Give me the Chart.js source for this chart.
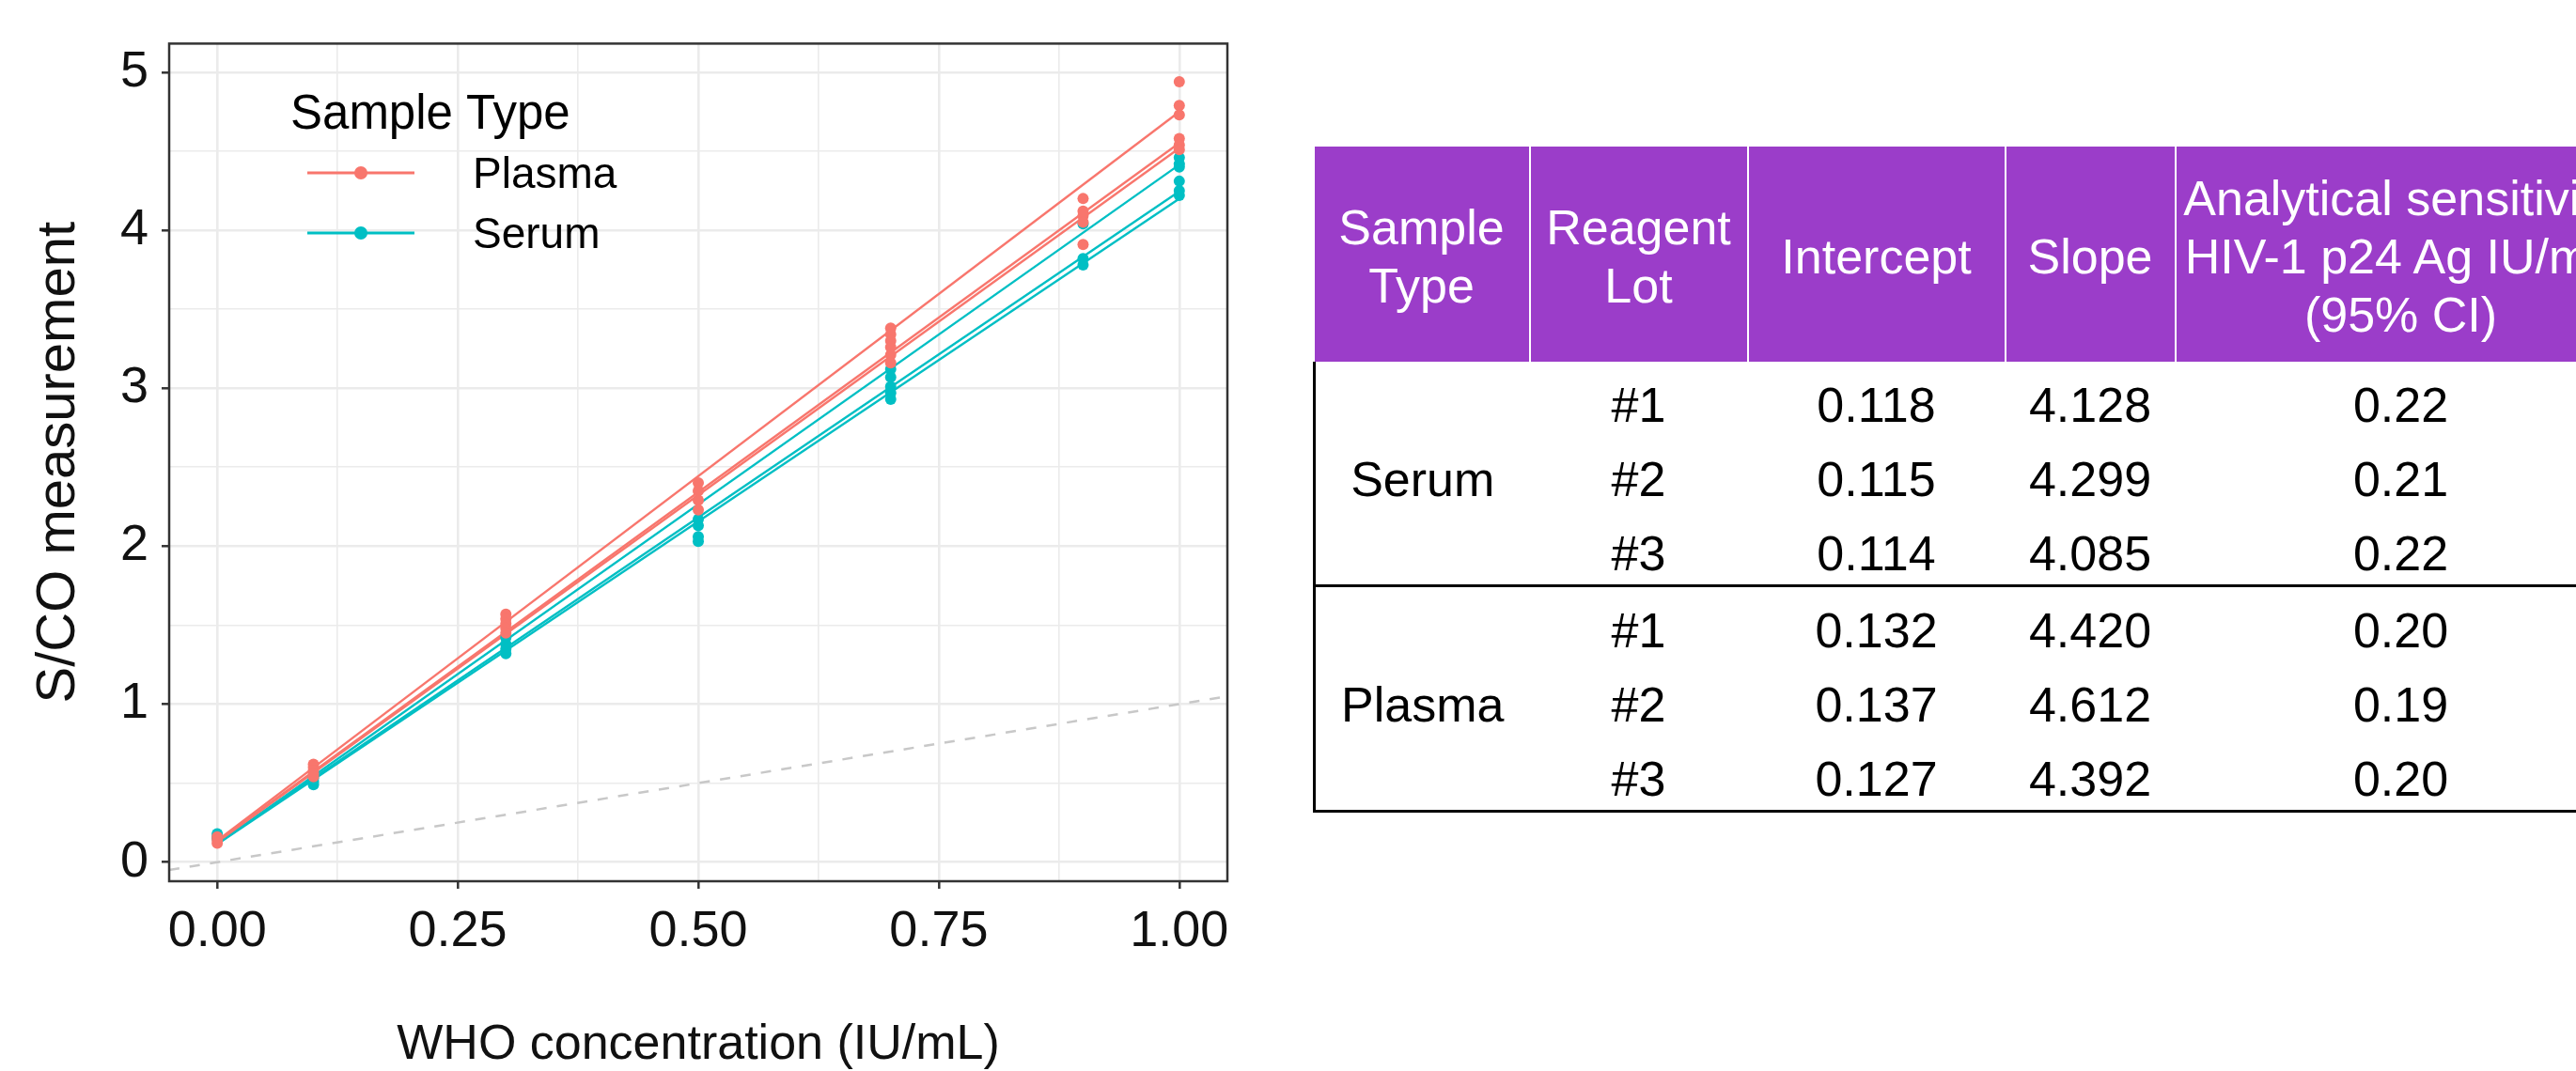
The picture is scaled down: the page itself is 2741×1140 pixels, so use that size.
<!DOCTYPE html>
<html>
<head>
<meta charset="utf-8">
<script src="https://cdn.jsdelivr.net/npm/chart.js@4.4.1/dist/chart.umd.min.js"></script>
<style>
  html, body { margin: 0; padding: 0; background: #fff; width: 2741px; height: 1140px; overflow: hidden; }
  #plot { position: absolute; left: 0; top: 0; }
  #fits {
    position: absolute; left: 1397px; top: 156px; width: 1396px;
    border-collapse: collapse; table-layout: fixed;
    font-family: "Liberation Sans", Arial, sans-serif; font-size: 52px; color: #000;
  }
  #fits th {
    background: #9b3dc9; color: #fff; font-weight: normal; height: 225px; padding: 4px 0 0 0;
    line-height: 62px; text-align: center; vertical-align: middle; white-space: nowrap;
    border-left: 2px solid #fff; border-right: 2px solid #fff;
  }
  #fits th:first-child { border-left: none; }
  #fits td { height: 65px; padding: 14px 0 0 0; line-height: 1.15; text-align: center; vertical-align: middle; white-space: nowrap; }
  #fits td.type { border-left: 3px solid #000; }
  #fits tr.last td { border-bottom: 3px solid #000; }
</style>
</head>
<body>
<canvas id="plot" width="1380" height="1140"></canvas>
<table id="fits">
  <colgroup>
    <col style="width:229px"><col style="width:232px"><col style="width:274px"><col style="width:181px"><col style="width:480px">
  </colgroup>
  <thead>
    <tr>
      <th>Sample<br>Type</th>
      <th>Reagent<br>Lot</th>
      <th>Intercept</th>
      <th>Slope</th>
      <th>Analytical sensitivity<br>HIV-1 p24 Ag IU/mL<br>(95% CI)</th>
    </tr>
  </thead>
  <tbody id="fit-body"></tbody>
</table>
<script>
const FONT = '"Liberation Sans", Arial, sans-serif';
const PLASMA = "#F8766D";
const SERUM = "#00BFC4";

// WHO panel concentrations (IU/mL) and replicate S/CO readings per concentration
const concentrations = [0, 0.1, 0.3, 0.5, 0.7, 0.9, 1.0];
const plasmaReadings = [
  [0.16, 0.14, 0.12],
  [0.62, 0.60, 0.58, 0.56, 0.54],
  [1.57, 1.54, 1.51, 1.48, 1.45],
  [2.40, 2.35, 2.29, 2.23],
  [3.38, 3.34, 3.30, 3.26, 3.21, 3.16],
  [4.20, 4.12, 4.09, 4.05, 3.91],
  [4.94, 4.79, 4.73, 4.58, 4.54, 4.51],
];
const serumReadings = [
  [0.18, 0.16, 0.15],
  [0.53, 0.51, 0.49],
  [1.42, 1.38, 1.35, 1.32],
  [2.17, 2.13, 2.06, 2.03],
  [3.12, 3.07, 3.01, 2.97, 2.93],
  [4.04, 3.82, 3.78],
  [4.46, 4.42, 4.40, 4.31, 4.25, 4.22],
];

// fitted lines per reagent lot, value at 0 and at 1 IU/mL
const fitRange = [0, 1];
const serumFitStart = [0.118, 0.115, 0.114];
const serumFitEnd = [4.246, 4.414, 4.199];
const plasmaFitStart = [0.132, 0.137, 0.127];
const plasmaFitEnd = [4.552, 4.749, 4.519];

// y = x reference
const identityRange = [-0.05, 1.05];

// table
const lots = ["#1", "#2", "#3"];
const serumIntercept = [0.118, 0.115, 0.114];
const serumSlope = [4.128, 4.299, 4.085];
const serumSensitivity = ["0.22", "0.21", "0.22"];
const plasmaIntercept = [0.132, 0.137, 0.127];
const plasmaSlope = [4.420, 4.612, 4.392];
const plasmaSensitivity = ["0.20", "0.19", "0.20"];

/* ── TABLE ── */
function tableRows(type, intercepts, slopes, sens) {
  return lots.map((lot, i) => `
    <tr class="${i === 2 ? "last" : ""}">
      ${i === 0 ? `<td class="type" rowspan="3" style="border-bottom:3px solid #000">${type}</td>` : ""}
      <td>${lot}</td><td>${intercepts[i].toFixed(3)}</td><td>${slopes[i].toFixed(3)}</td><td>${sens[i]}</td>
    </tr>`).join("");
}
document.getElementById("fit-body").innerHTML =
  tableRows("Serum", serumIntercept, serumSlope, serumSensitivity) +
  tableRows("Plasma", plasmaIntercept, plasmaSlope, plasmaSensitivity);

/* ── CHART ── */
const toPoints = (readings) => concentrations.flatMap((c, i) => readings[i].map((v) => ({ x: c, y: v })));

const pointSet = (label, readings, color) => ({
  label, data: toPoints(readings), showLine: false,
  backgroundColor: color, borderWidth: 0, pointRadius: 6,
});
const fitSet = (start, end, color) => ({
  data: fitRange.map((x, k) => ({ x, y: k === 0 ? start : end })), showLine: true,
  borderColor: color, borderWidth: 2.4, pointRadius: 0,
});

const datasets = [
  pointSet("Plasma", plasmaReadings, PLASMA),
  pointSet("Serum", serumReadings, SERUM),
  ...plasmaFitStart.map((s, i) => fitSet(s, plasmaFitEnd[i], PLASMA)),
  ...serumFitStart.map((s, i) => fitSet(s, serumFitEnd[i], SERUM)),
  {
    data: identityRange.map((v) => ({ x: v, y: v })), showLine: true,
    borderColor: "#c8c8c8", borderWidth: 2.5, borderDash: [11, 11], pointRadius: 0,
  },
];

const isMajorX = (v) => Math.abs(v / 0.25 - Math.round(v / 0.25)) < 1e-9;
const isMajorY = (v) => Math.abs(v - Math.round(v)) < 1e-9;

const panelBorder = {
  id: "panelBorder",
  afterDatasetsDraw(chart) {
    const { ctx, chartArea: a } = chart;
    ctx.save();
    ctx.strokeStyle = "#333";
    ctx.lineWidth = 2.5;
    ctx.strokeRect(a.left, a.top, a.right - a.left, a.bottom - a.top);
    ctx.restore();
  },
};

const sampleLegend = {
  id: "sampleLegend",
  afterDraw(chart) {
    const ctx = chart.ctx;
    ctx.save();
    ctx.fillStyle = "#000";
    ctx.textBaseline = "alphabetic";
    ctx.font = `51px ${FONT}`;
    ctx.fillText("Sample Type", 309, 137);
    [["Plasma", PLASMA, 184, 200], ["Serum", SERUM, 248, 264]].forEach(([label, color, y, base]) => {
      ctx.strokeStyle = color;
      ctx.lineWidth = 3;
      ctx.beginPath();
      ctx.moveTo(327, y);
      ctx.lineTo(441, y);
      ctx.stroke();
      ctx.fillStyle = color;
      ctx.beginPath();
      ctx.arc(384, y, 7, 0, Math.PI * 2);
      ctx.fill();
      ctx.fillStyle = "#000";
      ctx.font = `46px ${FONT}`;
      ctx.fillText(label, 503, base);
    });
    ctx.restore();
  },
};

new Chart(document.getElementById("plot"), {
  type: "scatter",
  data: { datasets },
  plugins: [panelBorder, sampleLegend],
  options: {
    responsive: false,
    animation: false,
    layout: { padding: { left: 0, top: 38, right: 74, bottom: 0 } },
    plugins: { legend: { display: false }, tooltip: { enabled: false } },
    scales: {
      x: {
        type: "linear", min: -0.05, max: 1.05,
        afterFit: (s) => { s.height = 202; },
        border: { display: false },
        grid: {
          color: "#ebebeb",
          lineWidth: (c) => (isMajorX(c.tick.value) ? 2.6 : 1.6),
          drawTicks: true, tickLength: 8, tickWidth: 2.5,
          tickColor: (c) => (isMajorX(c.tick.value) ? "#333" : "rgba(0,0,0,0)"),
        },
        ticks: {
          stepSize: 0.125, includeBounds: false, autoSkip: false, maxRotation: 0, padding: 14,
          color: "#111", font: { family: FONT, size: 54 },
          callback: (v) => (isMajorX(v) ? v.toFixed(2) : ""),
        },
        title: {
          display: true, text: "WHO concentration (IU/mL)", color: "#111",
          font: { family: FONT, size: 52, lineHeight: 1.05 }, padding: { top: 0, bottom: 0 },
        },
      },
      y: {
        type: "linear", min: -0.121, max: 5.181,
        afterFit: (s) => { s.width = 180; },
        border: { display: false },
        grid: {
          color: "#ebebeb",
          lineWidth: (c) => (isMajorY(c.tick.value) ? 2.6 : 1.6),
          drawTicks: true, tickLength: 8, tickWidth: 2.5,
          tickColor: (c) => (isMajorY(c.tick.value) ? "#333" : "rgba(0,0,0,0)"),
        },
        ticks: {
          stepSize: 0.5, includeBounds: false, autoSkip: false, padding: 14,
          color: "#111", font: { family: FONT, size: 54 },
          callback: (v) => (isMajorY(v) ? String(Math.round(v)) : ""),
        },
        title: {
          display: true, text: "S/CO measurement", color: "#111",
          font: { family: FONT, size: 58 }, padding: { top: 28, bottom: 0 },
        },
      },
    },
  },
});
</script>
</body>
</html>
